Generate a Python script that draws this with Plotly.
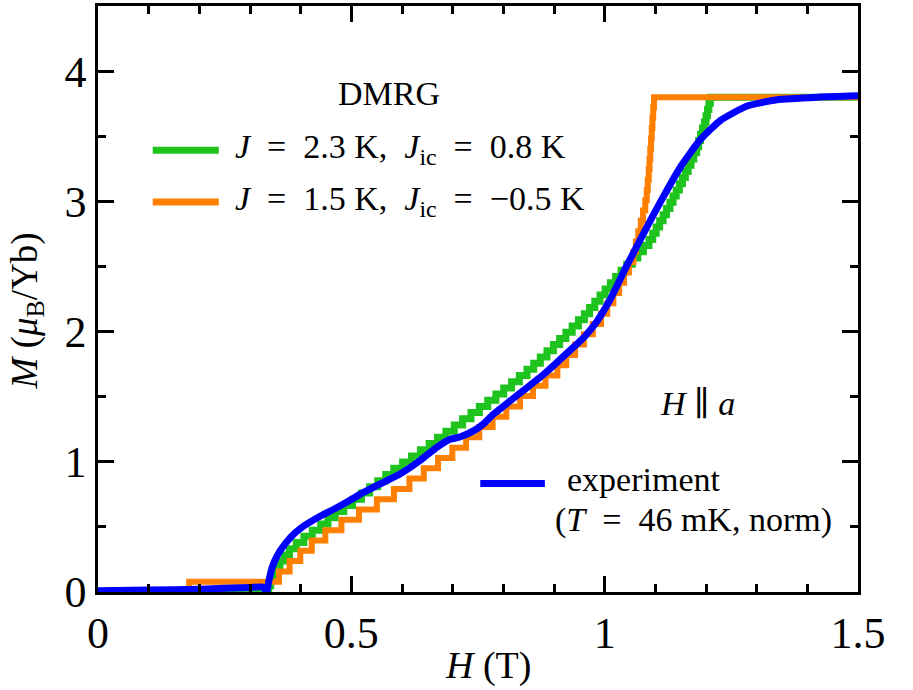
import plotly.graph_objects as go

# ---------------- data ----------------
# DMRG, J = 2.3 K, Jic = 0.8 K : step fields (T) and magnetisation plateaus (muB/Yb)
green_H = [0.0, 0.3370, 0.3409, 0.3449, 0.3519, 0.3591, 0.3683, 0.3778, 0.3913, 0.4063, 0.4229,
           0.4396, 0.4539, 0.4681, 0.4851, 0.5026, 0.5200, 0.5362, 0.5521, 0.5679, 0.5837,
           0.6012, 0.6188, 0.6364, 0.6536, 0.6701, 0.6866, 0.7032, 0.7196, 0.7361, 0.7526,
           0.7692, 0.7853, 0.8007, 0.8162, 0.8316, 0.8467, 0.8599, 0.8730, 0.8861, 0.8988,
           0.9112, 0.9235, 0.9359, 0.9482, 0.9600, 0.9702, 0.9805, 0.9908, 1.0010, 1.0113,
           1.0216, 1.0324, 1.0434, 1.0545, 1.0655, 1.0765, 1.0875, 1.0949, 1.1017, 1.1085,
           1.1153, 1.1220, 1.1288, 1.1350, 1.1412, 1.1474, 1.1535, 1.1593, 1.1648, 1.1704,
           1.1760, 1.1816, 1.1855, 1.1893, 1.1931, 1.1969, 1.2000, 1.2029, 1.2057, 1.2086,
           1.5]
green_M = [0.0, 0.0475, 0.095, 0.1425, 0.19, 0.2375, 0.285, 0.3325, 0.38, 0.4275, 0.475,
           0.5225, 0.57, 0.6175, 0.665, 0.7125, 0.76, 0.8075, 0.855, 0.9025, 0.95,
           0.9975, 1.045, 1.0925, 1.14, 1.1875, 1.235, 1.2825, 1.33, 1.3775, 1.425,
           1.4725, 1.52, 1.5675, 1.615, 1.6625, 1.71, 1.7575, 1.805, 1.8525, 1.9,
           1.9475, 1.995, 2.0425, 2.09, 2.1375, 2.185, 2.2325, 2.28, 2.3275, 2.375,
           2.4225, 2.47, 2.5175, 2.565, 2.6125, 2.66, 2.7075, 2.755, 2.8025, 2.85,
           2.8975, 2.945, 2.9925, 3.04, 3.0875, 3.135, 3.1825, 3.23, 3.2775, 3.325,
           3.3725, 3.42, 3.4675, 3.515, 3.5625, 3.61, 3.6575, 3.705, 3.7525, 3.8,
           3.8]

# DMRG, J = 1.5 K, Jic = -0.5 K
orange_H = [0.0, 0.180, 0.3572, 0.3782, 0.3993, 0.4219, 0.4487, 0.4804, 0.5151, 0.5504, 0.5841,
            0.6147, 0.6430, 0.6712, 0.6994, 0.7265, 0.7526, 0.7788, 0.8058, 0.8329, 0.8586,
            0.8832, 0.9067, 0.9241, 0.9416, 0.9590, 0.9765, 0.9928, 1.0050, 1.0172, 1.0284,
            1.0381, 1.0479, 1.0568, 1.0616, 1.0664, 1.0712, 1.0757, 1.0802, 1.0831, 1.0851,
            1.0870, 1.0886, 1.0900, 1.0915, 1.0929, 1.0943, 1.0958, 1.0973, 1.5]
orange_M = [0.0, 0.0792, 0.1583, 0.2375, 0.3167, 0.3958, 0.4750, 0.5542, 0.6333, 0.7125, 0.7917,
            0.8708, 0.9500, 1.0292, 1.1083, 1.1875, 1.2667, 1.3458, 1.4250, 1.5042, 1.5833,
            1.6625, 1.7417, 1.8208, 1.9000, 1.9792, 2.0583, 2.1375, 2.2167, 2.2958, 2.3750,
            2.4542, 2.5333, 2.6125, 2.6917, 2.7708, 2.8500, 2.9292, 3.0083, 3.0875, 3.1667,
            3.2458, 3.3250, 3.4042, 3.4833, 3.5625, 3.6417, 3.7208, 3.8000, 3.8000]

# experiment, T = 46 mK (normalised)
exp_H = [0.0, 0.10, 0.20, 0.30, 0.325, 0.333, 0.337, 0.343, 0.350, 0.360, 0.380, 0.400,
         0.440, 0.470, 0.500, 0.517, 0.557, 0.596, 0.635, 0.668, 0.695, 0.714, 0.741,
         0.760, 0.780, 0.813, 0.846, 0.879, 0.905, 0.930, 0.960, 0.985, 1.010, 1.043,
         1.083, 1.115, 1.149, 1.188, 1.228, 1.280, 1.340, 1.420, 1.500]
exp_M = [0.010, 0.015, 0.022, 0.035, 0.038, 0.005, 0.08, 0.18, 0.25, 0.32, 0.42, 0.49,
         0.585, 0.645, 0.71, 0.75, 0.83, 0.906, 1.008, 1.109, 1.173, 1.19, 1.237,
         1.288, 1.364, 1.466, 1.567, 1.669, 1.76, 1.85, 1.96, 2.08, 2.24, 2.50,
         2.80, 3.03, 3.26, 3.47, 3.62, 3.73, 3.78, 3.80, 3.81]

x_ticks = [0, 0.5, 1, 1.5]
x_ticklabels = ["0", "0.5", "1", "1.5"]
y_ticks = [0, 1, 2, 3, 4]
y_ticklabels = ["0", "1", "2", "3", "4"]

GREEN = "#1ec31e"
ORANGE = "#ff8000"
BLUE = "#0000ff"
SERIF = "Liberation Serif, DejaVu Serif, serif"

fig = go.Figure()
fig.add_trace(go.Scatter(x=green_H, y=green_M, mode="lines", line=dict(color=GREEN, width=7, shape="hv"),
                         name="J = 2.3 K, Jic = 0.8 K", showlegend=False))
fig.add_trace(go.Scatter(x=orange_H, y=orange_M, mode="lines", line=dict(color=ORANGE, width=6, shape="hv"),
                         name="J = 1.5 K, Jic = -0.5 K", showlegend=False))
fig.add_trace(go.Scatter(x=exp_H, y=exp_M, mode="lines",
                         line=dict(color=BLUE, width=7, shape="spline", smoothing=0.5),
                         name="experiment", showlegend=False))

axis_common = dict(showline=True, linecolor="black", linewidth=2.5, mirror="ticks",
                   ticks="inside", ticklen=16, tickwidth=2.5, tickcolor="black",
                   showgrid=False, zeroline=False,
                   tickfont=dict(family=SERIF, size=44, color="black"))

fig.update_xaxes(range=[0, 1.5], tickvals=x_ticks, ticktext=x_ticklabels,
                 minor=dict(ticks="inside", dtick=0.1, ticklen=8, tickwidth=2.5, tickcolor="black"),
                 **axis_common)
fig.update_yaxes(range=[0, 4.5], tickvals=y_ticks, ticktext=y_ticklabels,
                 minor=dict(ticks="inside", dtick=0.5, ticklen=8, tickwidth=2.5, tickcolor="black"),
                 **axis_common)

# legend samples (drawn manually, in axis-domain coordinates)
def sample(x0, x1, y, color):
    fig.add_shape(type="line", xref="x domain", yref="y domain", x0=x0, x1=x1, y0=y, y1=y,
                  line=dict(color=color, width=7))

sample(0.072, 0.159, (592 - 148) / 589, GREEN)
sample(0.072, 0.159, (592 - 200) / 589, ORANGE)
sample(0.503, 0.588, (592 - 483) / 589, BLUE)

def note(x, y, text, size, xanchor="left", angle=0):
    fig.add_annotation(xref="x domain", yref="y domain", x=x, y=y, text=text, showarrow=False,
                       xanchor=xanchor, yanchor="middle", textangle=angle,
                       font=dict(family=SERIF, size=size, color="black"))

E = "\u2002"  # en space, mimics TeX spacing around '='
# axis titles
note((488 - 98) / 760, (592 - 666) / 589, "<i>H</i> (T)", 38, "center")
note((27 - 98) / 760, (592 - 310) / 589, "<i>M</i> (<i>μ</i><sub>B</sub>/Yb)", 37, "center", -90)

note((389 - 98) / 760, (592 - 91) / 589, "DMRG", 34, "center")
note((233 - 98) / 760, (592 - 147) / 589, f"<i>J</i>{E}={E}2.3 K,{E}<i>J</i><sub>ic</sub>{E}={E}0.8 K", 34)
note((233 - 98) / 760, (592 - 199) / 589, f"<i>J</i>{E}={E}1.5 K,{E}<i>J</i><sub>ic</sub>{E}={E}−0.5 K", 34)
note((697 - 98) / 760, (592 - 403) / 589, "<i>H</i> ∥ <i>a</i>", 34, "center")
note((565 - 98) / 760, (592 - 479) / 589, "experiment", 34)
note((553 - 98) / 760, (592 - 520) / 589, f"(<i>T</i>{E}={E}46 mK, norm)", 34)

fig.update_layout(width=913, height=690, margin=dict(l=98, r=55, t=3, b=98),
                  plot_bgcolor="white", paper_bgcolor="white", showlegend=False)

fig.write_html("out.html")
